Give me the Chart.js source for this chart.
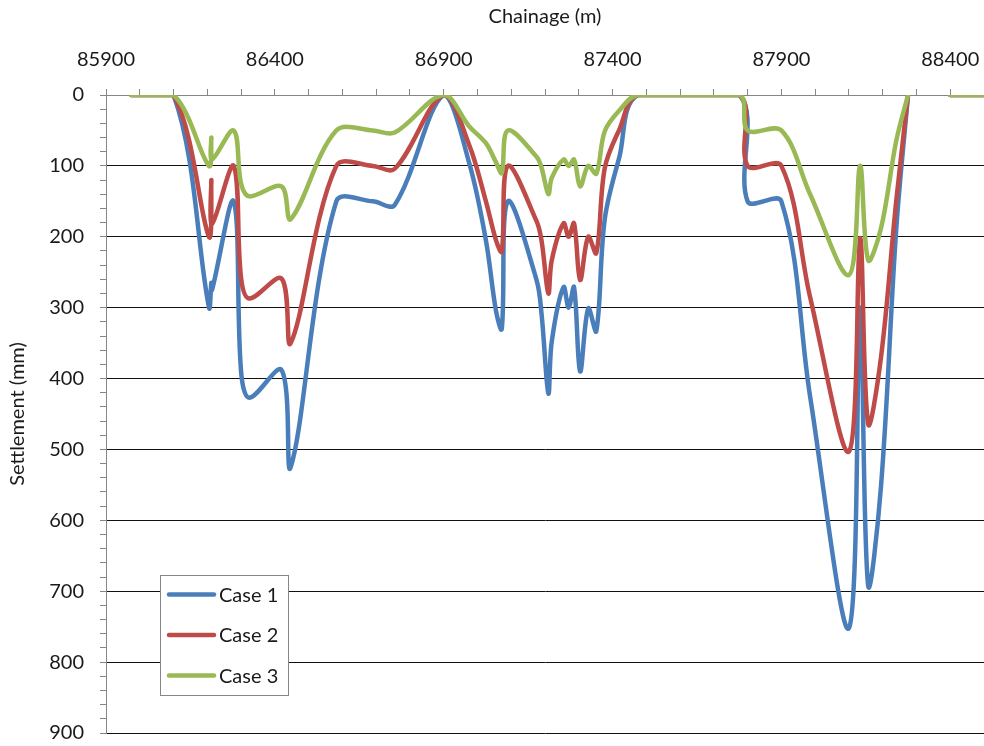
<!DOCTYPE html>
<html>
<head>
<meta charset="utf-8">
<script src="https://cdn.jsdelivr.net/npm/chart.js@4.4.1/dist/chart.umd.min.js"></script>
<style>
  html, body { margin: 0; padding: 0; background: #fff; }
  #wrap { width: 984px; height: 746px; position: relative; }
</style>
</head>
<body>
<div id="wrap"><canvas id="c" width="984" height="746"></canvas></div>
<script>
// Chainage (m) of each survey point; null marks a break in the profile
const chainage = [85975, 86100, 86205, 86212, 86214, 86278, 86300, 86325, 86420, 86447,
  86582, 86690, 86755, 86900, 86975, 87025, 87055, 87072, 87090, 87175,
  87190, 87210, 87220, 87255, 87270, 87286, 87304, 87328, 87352, 87377,
  87420, 87475, 87775, 87800, 87900, 87985, 88100, 88133, 88157, 88195,
  88240, 88275, 88340, 88400, 88500];

// Settlement (mm) for each case
const case1 = [0, 0, 300, 265, 275, 150, 390, 427, 388, 525,
  150, 150, 155, 0, 95, 205, 305, 330, 150, 261,
  310, 421, 348, 271, 300, 271, 390, 301, 333, 175,
  88, 0, 0, 150, 150, 425, 752, 300, 692, 552,
  190, 0, null, 0, 0];
const case2 = [0, 0, 200, 120, 182, 100, 258, 287, 259, 350,
  100, 100, 104, 0, 70, 150, 205, 221, 100, 178,
  206, 280, 233, 181, 200, 181, 261, 200, 223, 103,
  49, 0, 0, 100, 100, 285, 503, 202, 464, 370,
  150, 0, null, 0, 0];
const case3 = [0, 0, 100, 60, 91, 50, 125, 143, 129, 175,
  50, 50, 53, 0, 44, 68, 95, 110, 50, 87,
  103, 140, 117, 91, 100, 91, 129, 100, 111, 51,
  22, 0, 0, 50, 50, 140, 254, 100, 233, 188,
  65, 0, null, 0, 0];

const seriesNames = ['Case 1', 'Case 2', 'Case 3'];
const seriesColors = ['#4A7EBB', '#BE4B48', '#98B954'];

// Axis ranges and labelled ticks
const xMin = 85900, xMax = 88500, xMinorStep = 100, xMajorStep = 500;
const yMin = 0, yMax = 900, yMinorStep = 20, yMajorStep = 100;

const FONT = 'Lato, "Open Sans", sans-serif';
const TEXT = '#1a1a1a';
const AXIS = '#868686';

function toPoints(values) {
  return chainage.map((x, i) => ({ x: x, y: values[i] }));
}

// Boxed legend placed inside the plot, lower left
const boxLegend = {
  id: 'boxLegend',
  afterDraw(chart) {
    const ctx = chart.ctx;
    const bx = 160.5, by = 575.5, bw = 128, bh = 120;
    ctx.save();
    ctx.fillStyle = '#fff';
    ctx.fillRect(bx, by, bw, bh);
    ctx.strokeStyle = AXIS;
    ctx.lineWidth = 1;
    ctx.strokeRect(bx, by, bw, bh);
    chart.data.datasets.forEach((ds, i) => {
      const y = 594.5 + i * 40.5;
      ctx.beginPath();
      ctx.moveTo(169, y);
      ctx.lineTo(214, y);
      ctx.strokeStyle = ds.borderColor;
      ctx.lineWidth = 4.5;
      ctx.lineCap = 'round';
      ctx.stroke();
      ctx.fillStyle = TEXT;
      ctx.font = '20px ' + FONT;
      ctx.textAlign = 'left';
      ctx.textBaseline = 'middle';
      ctx.fillText(ds.label, 219, y + 1);
    });
    ctx.restore();
  }
};

function draw() {
  const datasets = [case1, case2, case3].map((vals, i) => ({
    label: seriesNames[i],
    data: toPoints(vals),
    borderColor: seriesColors[i],
    backgroundColor: seriesColors[i],
    borderWidth: 4.5,
    pointRadius: 0,
    tension: 0.35,
    spanGaps: false,
    borderJoinStyle: 'round',
    borderCapStyle: 'round',
    clip: 0,
    order: 3 - i
  }));

  new Chart(document.getElementById('c'), {
    type: 'line',
    data: { datasets: datasets },
    plugins: [boxLegend],
    options: {
      responsive: false,
      animation: false,
      events: [],
      layout: { padding: { left: 0, right: 0, top: 0, bottom: 13 } },
      plugins: { legend: { display: false }, tooltip: { enabled: false } },
      scales: {
        x: {
          type: 'linear',
          position: 'top',
          min: xMin,
          max: xMax,
          afterFit(scale) {
            scale.height = 95;
            scale.paddingLeft = 0;
            scale.paddingRight = 0;
          },
          title: {
            display: true,
            text: 'Chainage (m)',
            color: TEXT,
            font: { family: FONT, size: 20 },
            padding: { top: 5, bottom: 0 }
          },
          ticks: {
            stepSize: xMinorStep,
            autoSkip: false,
            maxRotation: 0,
            minRotation: 0,
            padding: 17,
            color: TEXT,
            font: { family: FONT, size: 20 },
            callback: (v) => ((v - xMin) % xMajorStep === 0 ? String(v) : '')
          },
          grid: {
            drawOnChartArea: false,
            drawTicks: true,
            tickLength: 6,
            tickColor: AXIS
          },
          border: { display: true, color: AXIS, width: 1 }
        },
        y: {
          type: 'linear',
          position: 'left',
          reverse: true,
          min: yMin,
          max: yMax,
          afterFit(scale) {
            scale.width = 106;
            scale.paddingTop = 0;
            scale.paddingBottom = 0;
          },
          title: {
            display: true,
            text: 'Settlement (mm)',
            color: TEXT,
            font: { family: FONT, size: 20 },
            padding: { top: 6, bottom: 0 }
          },
          ticks: {
            stepSize: yMinorStep,
            autoSkip: false,
            padding: 16,
            color: TEXT,
            font: { family: FONT, size: 20 },
            callback: (v) => (v % yMajorStep === 0 ? String(v) : '')
          },
          grid: {
            drawOnChartArea: true,
            drawTicks: true,
            tickLength: 6,
            tickColor: AXIS,
            lineWidth: 1,
            color: (c) => {
              const v = c.tick ? c.tick.value : null;
              if (v === null || v === yMin) return 'rgba(0,0,0,0)';
              return v % yMajorStep === 0 ? '#111' : 'rgba(0,0,0,0)';
            }
          },
          border: { display: true, color: AXIS, width: 1 }
        }
      }
    }
  });
}

const fontReady = (document.fonts && document.fonts.load)
  ? Promise.all([document.fonts.load('20px Lato')]).catch(() => null)
  : Promise.resolve();
fontReady.then(draw);
</script>
</body>
</html>
